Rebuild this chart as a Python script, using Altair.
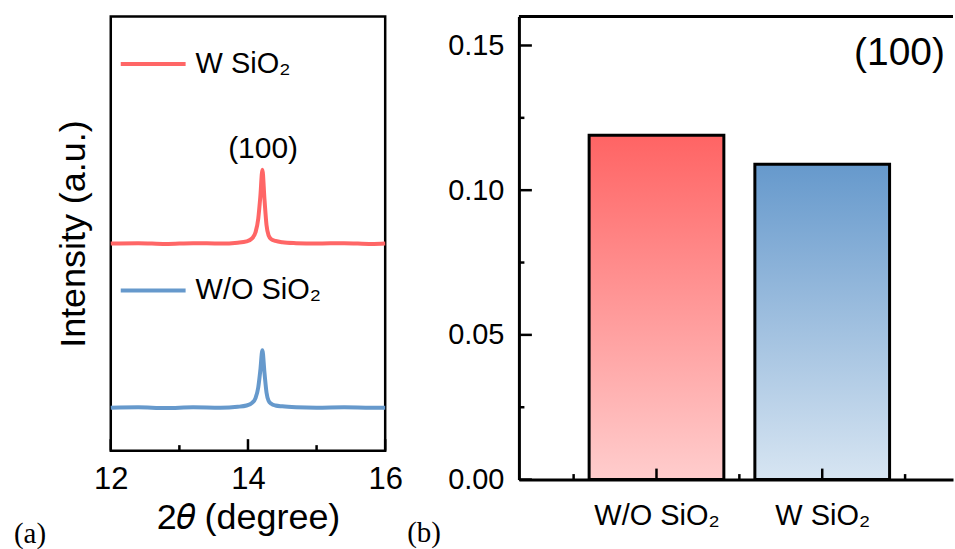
import altair as alt
import pandas as pd

# ---------------- Panel (a): XRD patterns ----------------
two_theta = [12.0, 12.4, 12.8, 13.2, 13.6, 13.85, 13.98, 14.06, 14.11, 14.15, 14.18,
             14.21, 14.24, 14.27, 14.30, 14.34, 14.40, 14.50, 14.70, 15.0, 15.4, 15.8, 16.0]
w_sio2 = [47.7, 47.8, 47.6, 47.8, 47.7, 47.9, 48.2, 48.9, 50.3, 53.5, 58.5,
          64.7, 58.0, 52.0, 49.6, 48.7, 48.3, 48.0, 47.8, 47.7, 47.8, 47.6, 47.7]
wo_sio2 = [9.9, 10.0, 9.8, 10.0, 9.9, 10.1, 10.4, 11.0, 12.1, 14.6, 18.5,
           23.1, 18.0, 13.4, 11.5, 10.8, 10.4, 10.2, 10.0, 9.9, 10.0, 9.9, 9.9]
series_names = ["W SiO₂", "W/O SiO₂"]
line_colors = ["#FF6666", "#6699CC"]
x_major_a = [12, 14, 16]
x_minor_a = [13, 15]
peak_label = ["(100)"]
peak_pos_x = [14.22]
peak_pos_y = [69.5]

# ---------------- Panel (b): bar chart ----------------
categories = ["W/O SiO₂", "W SiO₂"]
values = [0.119, 0.109]
y_major_b = [0.0, 0.05, 0.10, 0.15]
y_minor_b = [0.025, 0.075, 0.125]
x_major_b = [1, 2]
x_minor_b = [0.5, 1.5, 2.5]

FONT = "Liberation Sans"
SERIF = "Liberation Serif"

W_A, H_A = 275, 435
W_B, H_B = 435, 464

# ---------- shared axis definitions ----------
ax_xa = alt.Axis(values=x_major_a, format="d", title="2𝜃 (degree)",
                 labelFont=FONT, labelFontSize=31, labelColor="black", labelPadding=14,
                 labelFlush=False, ticks=False, domain=False, grid=False,
                 titleFont=FONT, titleFontSize=36, titleFontWeight="normal",
                 titleColor="black", titlePadding=6)
ax_ya = alt.Axis(labels=False, ticks=False, domain=False, grid=False,
                 title="Intensity (a.u.)", titleFont=FONT, titleFontSize=36,
                 titleFontWeight="normal", titleColor="black", titlePadding=18)

label_expr = "[" + ",".join("'" + c + "'" for c in categories) + "][datum.value - 1]"
ax_xb = alt.Axis(values=x_major_b, labelExpr=label_expr, title=None,
                 labelFont=FONT, labelFontSize=29, labelColor="black", labelPadding=22,
                 labelFlush=False, ticks=False, domain=True, domainColor="black",
                 domainWidth=3, domainCap="butt", grid=False)
ax_yb = alt.Axis(values=y_major_b, format=".2f", title=None,
                 labelFont=FONT, labelFontSize=29, labelColor="black", labelPadding=15,
                 labelFlush=False, ticks=False, domain=True, domainColor="black",
                 domainWidth=3, domainCap="butt", grid=False)

# ---------- left chart ----------
n = len(two_theta)
lines_df = pd.DataFrame({
    "x": two_theta + two_theta,
    "y": w_sio2 + wo_sio2,
    "series": [series_names[0]] * n + [series_names[1]] * n,
})
xa = alt.Scale(domain=[12, 16], nice=False, zero=False)
ya = alt.Scale(domain=[0, 100], nice=False, zero=False)

lines = alt.Chart(lines_df).mark_line(strokeWidth=4, interpolate="monotone").encode(
    x=alt.X("x:Q", scale=xa, axis=ax_xa),
    y=alt.Y("y:Q", scale=ya, axis=ax_ya),
    color=alt.Color("series:N", scale=alt.Scale(domain=series_names, range=line_colors),
                    legend=alt.Legend(orient="none", legendX=8, legendY=13, title=None,
                                      symbolType="stroke", symbolSize=4225,
                                      symbolStrokeWidth=4, labelFont=FONT,
                                      labelFontSize=29, labelColor="black",
                                      rowPadding=177, labelOffset=8, padding=0)),
)

ticks_a_major = alt.Chart(pd.DataFrame({"x": x_major_a})).mark_rule(
    color="black", strokeWidth=2.5).encode(
    x=alt.X("x:Q", scale=xa, axis=ax_xa),
    y=alt.value(H_A), y2=alt.value(H_A - 11.5))
ticks_a_minor = alt.Chart(pd.DataFrame({"x": x_minor_a})).mark_rule(
    color="black", strokeWidth=2.5).encode(
    x=alt.X("x:Q", scale=xa, axis=ax_xa),
    y=alt.value(H_A), y2=alt.value(H_A - 5.5))

peak_text = alt.Chart(pd.DataFrame({"x": peak_pos_x, "y": peak_pos_y, "t": peak_label})).mark_text(
    font=FONT, fontSize=30, color="black", baseline="middle", align="center").encode(
    x=alt.X("x:Q", scale=xa, axis=ax_xa),
    y=alt.Y("y:Q", scale=ya, axis=ax_ya),
    text="t:N")

label_a = alt.Chart(pd.DataFrame({"t": ["(a)"]})).mark_text(
    font=SERIF, fontSize=29, color="black", baseline="middle", align="left").encode(
    x=alt.value(-97), y=alt.value(519), text="t:N")

left = alt.layer(lines, ticks_a_major, ticks_a_minor, peak_text, label_a).properties(
    width=W_A, height=H_A,
    view=alt.ViewBackground(stroke="black", strokeWidth=2.5))

# ---------- right chart ----------
bars_df = pd.DataFrame({"x": [i + 1 for i in range(len(categories))],
                        "v": values, "cat": categories})
xb = alt.Scale(domain=[0.2, 2.759], nice=False, zero=False)
yb = alt.Scale(domain=[0, 0.16], nice=False, zero=True)

red_grad = alt.LinearGradient(
    gradient="linear", x1=0, x2=0, y1=0, y2=1,
    stops=[alt.GradientStop(color="#FF6464", offset=0),
           alt.GradientStop(color="#FFCDCD", offset=1)])
blue_grad = alt.LinearGradient(
    gradient="linear", x1=0, x2=0, y1=0, y2=1,
    stops=[alt.GradientStop(color="#6699CC", offset=0),
           alt.GradientStop(color="#D7E5F2", offset=1)])

bar1 = alt.Chart(bars_df).transform_filter(alt.datum.x == 1).mark_bar(
    size=135, fill=red_grad, stroke="black", strokeWidth=3).encode(
    x=alt.X("x:Q", scale=xb, axis=ax_xb),
    y=alt.Y("v:Q", scale=yb, axis=ax_yb),
)
bar2 = alt.Chart(bars_df).transform_filter(alt.datum.x == 2).mark_bar(
    size=135, fill=blue_grad, stroke="black", strokeWidth=3).encode(
    x=alt.X("x:Q", scale=xb, axis=ax_xb),
    y=alt.Y("v:Q", scale=yb, axis=ax_yb),
)

yt_major = alt.Chart(pd.DataFrame({"v": y_major_b})).mark_rule(
    color="black", strokeWidth=2.5).encode(
    y=alt.Y("v:Q", scale=yb, axis=ax_yb), x=alt.value(0), x2=alt.value(13))
yt_minor = alt.Chart(pd.DataFrame({"v": y_minor_b})).mark_rule(
    color="black", strokeWidth=2.5).encode(
    y=alt.Y("v:Q", scale=yb, axis=ax_yb), x=alt.value(0), x2=alt.value(5.5))
xt_major = alt.Chart(pd.DataFrame({"x": x_major_b})).mark_rule(
    color="black", strokeWidth=2.5).encode(
    x=alt.X("x:Q", scale=xb, axis=ax_xb), y=alt.value(H_B), y2=alt.value(H_B - 11))
xt_minor = alt.Chart(pd.DataFrame({"x": x_minor_b})).mark_rule(
    color="black", strokeWidth=2.5).encode(
    x=alt.X("x:Q", scale=xb, axis=ax_xb), y=alt.value(H_B), y2=alt.value(H_B - 5.5))

top_rule = alt.Chart(pd.DataFrame({"k": [0]})).mark_rule(
    color="black", strokeWidth=3, strokeCap="butt").encode(
    x=alt.value(0), x2=alt.value(W_B), y=alt.value(0))

tag_text = alt.Chart(pd.DataFrame({"x": [2.74], "v": [0.1475], "t": ["(100)"]})).mark_text(
    font=FONT, fontSize=39, color="black", baseline="middle", align="right").encode(
    x=alt.X("x:Q", scale=xb, axis=ax_xb),
    y=alt.Y("v:Q", scale=yb, axis=ax_yb),
    text="t:N")

label_b = alt.Chart(pd.DataFrame({"t": ["(b)"]})).mark_text(
    font=SERIF, fontSize=29, color="black", baseline="middle", align="left").encode(
    x=alt.value(-112), y=alt.value(518), text="t:N")

right = alt.layer(bar1, bar2, yt_major, yt_minor, xt_major, xt_minor, top_rule,
                  tag_text, label_b).properties(
    width=W_B, height=H_B,
    view=alt.ViewBackground(stroke=None, strokeWidth=0))

chart = alt.hconcat(left, right, spacing=3).properties(
    padding={"left": 12, "top": 14, "right": 0, "bottom": 0},
    background="white",
).configure_view(strokeWidth=0).configure(font=FONT)

chart.save("out.html", embed_options={"renderer": "svg", "actions": False})
